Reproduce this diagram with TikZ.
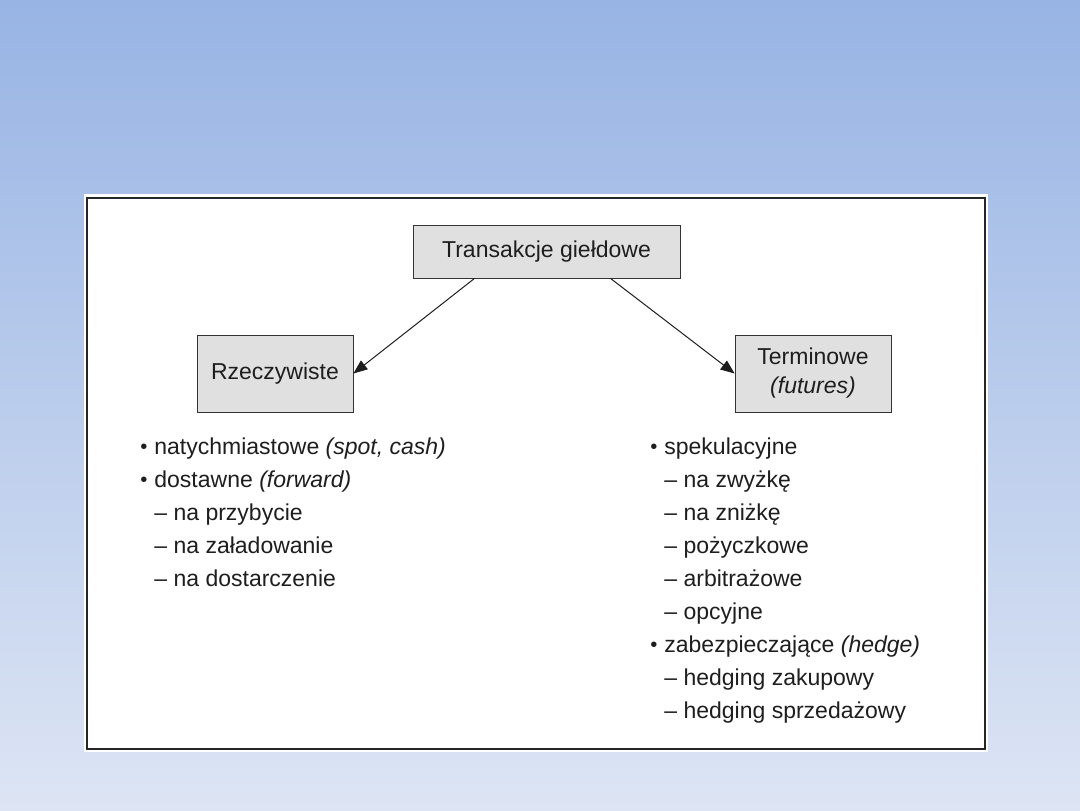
\documentclass[tikz,border=0pt]{standalone}
\usepackage{fontspec}
\setmainfont{Liberation Sans}
\usetikzlibrary{arrows.meta, positioning}
\definecolor{bgtop}{RGB}{152,180,228}
\definecolor{bgbot}{RGB}{221,229,244}
\definecolor{ink}{RGB}{30,30,30}
\newcommand{\bul}{\llap{\raisebox{0.3pt}{\scalebox{0.88}{\textbullet}}\hspace{3.5pt}}}

\begin{document}
\begin{tikzpicture}[
  x=0.5pt, y=-0.5pt,
  every node/.style={font=\fontsize{11.5}{14.5}\selectfont, text=ink},
  kind/.style={rectangle, draw=black!80, fill=black!12, align=center},
  item/.style={anchor=base west, inner sep=0pt},
  arrow/.style={-{Triangle[length=7pt, width=5.5pt]}, line width=0.5pt, draw=ink}
]
\useasboundingbox (0,0) rectangle (1080,810);

% slide background and frame
\shade[top color=bgtop, bottom color=bgbot] (0,0) rectangle (1080,810);
\fill[white] (84,194) rectangle (988,752);
\draw[line width=1.2pt, black!85] (87,198) rectangle (985,749);

% boxes
\node[kind, minimum width=133.5pt, minimum height=26.5pt] (root) at (546.5,251.5) {Transakcje giełdowe};
\node[kind, minimum width=78pt, minimum height=38.5pt] (real) at (275,373.5) {Rzeczywiste};
\node[kind, minimum width=78pt, minimum height=38.5pt] (term) at (813,373.5) {Terminowe\\\textit{(futures)}};

% arrows
\draw[arrow] ([xshift=-36pt]root.south) -- (real.east);
\draw[arrow] ([xshift=32pt]root.south) -- (term.west);

% lists
\foreach \t [count=\i] in {{\bul natychmiastowe \textit{(spot, cash)}},
  {\bul dostawne \textit{(forward)}},
  {– na przybycie}, {– na załadowanie}, {– na dostarczenie}}
  \node[item] (real\i) at (154,421+33*\i) {\t};

\foreach \t [count=\i] in {{\bul spekulacyjne}, {– na zwyżkę}, {– na zniżkę},
  {– pożyczkowe}, {– arbitrażowe}, {– opcyjne},
  {\bul zabezpieczające \textit{(hedge)}},
  {– hedging zakupowy}, {– hedging sprzedażowy}}
  \node[item] (term\i) at (664,421+33*\i) {\t};

\end{tikzpicture}
\end{document}
